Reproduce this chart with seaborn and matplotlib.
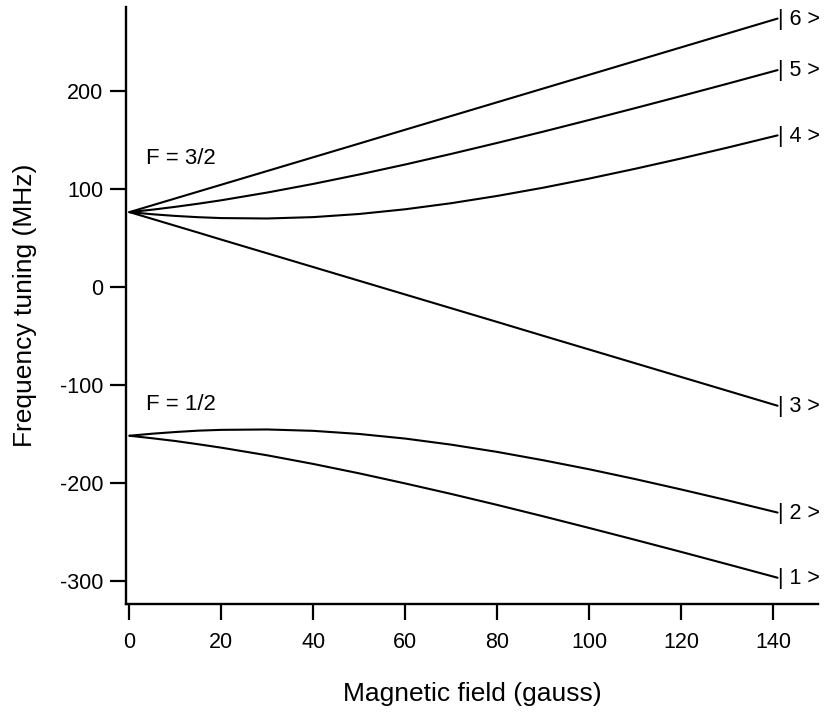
import matplotlib
matplotlib.use("Agg")
import matplotlib.pyplot as plt
import numpy as np
import pandas as pd
import seaborn as sns

# Magnetic field samples (gauss)
field = [0, 5, 10, 15, 20, 30, 40, 50, 60, 70, 80, 90, 100, 110, 120, 130, 141]

# Ground-state sublevel energies (MHz) versus field
state6 = [76.1, 83.1, 90.1, 97.1, 104.1, 118.1, 132.1, 146.1, 160.2, 174.2,
          188.2, 202.2, 216.2, 230.2, 244.2, 258.2, 273.6]
state5 = [76.1, 78.6, 81.5, 84.7, 88.2, 96.1, 104.9, 114.5, 124.7, 135.5,
          146.7, 158.2, 170.1, 182.2, 194.5, 207.0, 221.0]
state4 = [76.1, 73.9, 72.2, 70.9, 70.0, 69.6, 71.0, 74.2, 79.0, 85.2,
          92.6, 101.0, 110.3, 120.3, 130.8, 141.8, 154.4]
state3 = [76.1, 69.1, 62.1, 55.1, 48.0, 34.0, 20.0, 6.0, -8.0, -22.0,
          -36.0, -50.1, -64.1, -78.1, -92.1, -106.1, -121.5]
state2 = [-152.1, -150.0, -148.3, -146.9, -146.1, -145.7, -147.1, -150.3, -155.0, -161.2,
          -168.6, -177.1, -186.3, -196.3, -206.9, -217.9, -230.5]
state1 = [-152.1, -154.7, -157.5, -160.8, -164.3, -172.1, -180.9, -190.5, -200.8, -211.5,
          -222.7, -234.3, -246.2, -258.3, -270.6, -283.1, -297.0]

state_names = ["| 6 >", "| 5 >", "| 4 >", "| 3 >", "| 2 >", "| 1 >"]
state_values = [state6, state5, state4, state3, state2, state1]

manifold_labels = ["F = 3/2", "F = 1/2"]
manifold_label_pos = [(3.7, 125.0), (3.7, -126.0)]

x_ticks = [0, 20, 40, 60, 80, 100, 120, 140]
y_ticks = [-300, -200, -100, 0, 100, 200]

rows = []
for name, vals in zip(state_names, state_values):
    for b, e in zip(field, vals):
        rows.append({"field": b, "energy": e, "state": name})
df = pd.DataFrame(rows)

sns.set_style("ticks")
plt.rcParams["font.family"] = ["Liberation Sans", "DejaVu Sans"]
plt.rcParams["axes.unicode_minus"] = False
for key in ("text.color", "axes.labelcolor", "xtick.color", "ytick.color",
            "axes.edgecolor"):
    plt.rcParams[key] = "black"

fig = plt.figure(figsize=(8.28, 7.17), dpi=100)
ax = fig.add_axes([126 / 828, 113 / 717, 692 / 828, 597 / 717])

sns.lineplot(data=df, x="field", y="energy", hue="state",
             palette={n: "black" for n in state_names}, legend=False,
             linewidth=1.5, ax=ax, sort=False)

ax.set_xlim(-0.76, 149.8)
ax.set_ylim(-323.8, 285.4)
ax.set_xticks(x_ticks)
ax.set_yticks(y_ticks)

for side in ("top", "right"):
    ax.spines[side].set_visible(False)
for side in ("left", "bottom"):
    ax.spines[side].set_linewidth(1.7)
    ax.spines[side].set_color("black")

ax.tick_params(axis="both", direction="out", length=11.5, width=1.6,
               colors="black", labelsize=15.5)
ax.tick_params(axis="x", pad=8.5)
ax.tick_params(axis="y", pad=5)

ax.set_xlabel("Magnetic field (gauss)", fontsize=19, labelpad=21)
ax.set_ylabel("Frequency tuning (MHz)", fontsize=19, labelpad=16)

# State labels at the end of each curve
for name, vals in zip(state_names, state_values):
    ax.annotate(name, xy=(field[-1], vals[-1]), xytext=(0, -4.5),
                textcoords="offset points", ha="left", va="baseline",
                fontsize=15.5, clip_on=False, annotation_clip=False)

for text, (tx, ty) in zip(manifold_labels, manifold_label_pos):
    ax.text(tx, ty, text, fontsize=16, ha="left", va="baseline")

fig.savefig("out.png", dpi=100)
